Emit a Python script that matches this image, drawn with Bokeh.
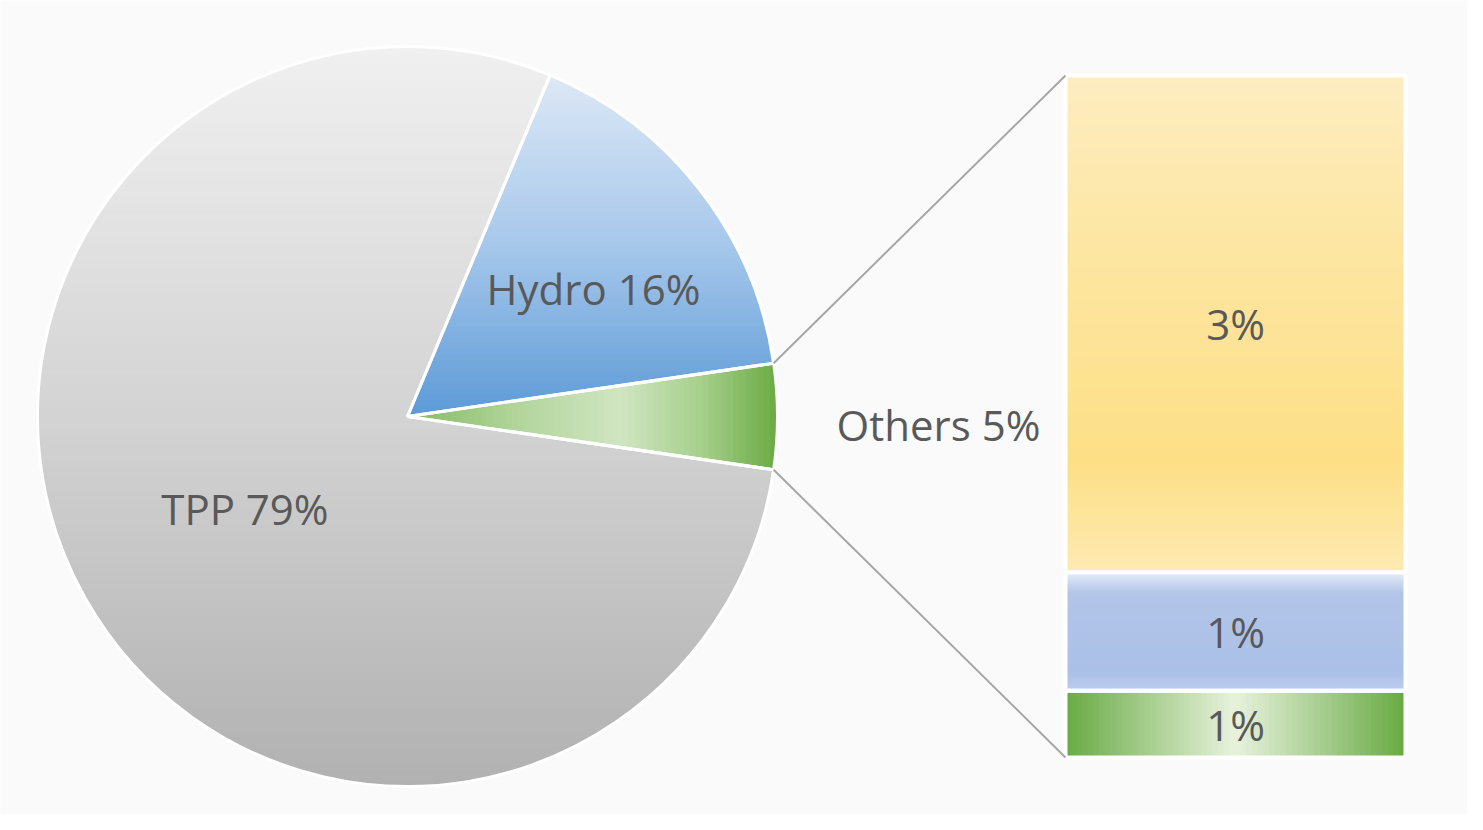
import numpy as np
from bokeh.plotting import figure
from bokeh.models import Range1d
from bokeh.core.properties import value
from bokeh.embed import file_html
from bokeh.resources import INLINE

# ---------------- data ----------------
pie_names = ["TPP", "Hydro", "Others"]
pie_values = [79.0, 16.4, 4.6]
pie_pct = ["79%", "16%", "5%"]

bar_values = [3.35, 0.8, 0.45]          # top to bottom
bar_pct = ["3%", "1%", "1%"]

# ---------------- layout / style ----------------
W, H = 1467, 814
CX, CY, R = 407.0, 398.0, 370.0
BAR_L, BAR_R, BAR_T, BAR_B = 1065.0, 1405.0, 739.0, 57.0
TXT = "#595959"
FONT = value("Open Sans")

p = figure(width=W, height=H, x_range=Range1d(0, W), y_range=Range1d(0, H),
           output_backend="svg", toolbar_location=None, min_border=0,
           x_axis_location=None, y_axis_location=None,
           background_fill_color="#fafafa", border_fill_color="#fafafa")
p.grid.visible = False
p.outline_line_color = None


def hex2rgb(h):
    h = h.lstrip("#")
    return np.array([int(h[i:i + 2], 16) for i in (0, 2, 4)], float)


def grad(stops, t):
    for (t0, c0), (t1, c1) in zip(stops[:-1], stops[1:]):
        if t <= t1:
            f = 0 if t1 == t0 else (t - t0) / (t1 - t0)
            c = hex2rgb(c0) * (1 - f) + hex2rgb(c1) * f
            return "#%02x%02x%02x" % tuple(int(round(v)) for v in c)
    return stops[-1][1]


def clip(xs, ys, k, lo, hi):
    pts = list(zip(xs, ys))

    def inter(a, b, bound):
        t = (bound - a[k]) / (b[k] - a[k])
        return (a[0] + t * (b[0] - a[0]), a[1] + t * (b[1] - a[1]))

    def half(pts, bound, greater):
        out = []
        n = len(pts)
        for i in range(n):
            cur, prev = pts[i], pts[i - 1]
            cin = cur[k] >= bound if greater else cur[k] <= bound
            pin = prev[k] >= bound if greater else prev[k] <= bound
            if cin:
                if not pin:
                    out.append(inter(prev, cur, bound))
                out.append(cur)
            elif pin:
                out.append(inter(prev, cur, bound))
        return out

    pts = half(pts, lo, True)
    if pts:
        pts = half(pts, hi, False)
    return [a for a, b in pts], [b for a, b in pts]


def wedge_poly(a0, a1, n=200):
    th = np.linspace(a0, a1, n)
    xs = [CX] + list(CX + R * np.cos(th))
    ys = [CY] + list(CY + R * np.sin(th))
    return xs, ys


def banded(xs, ys, k, stops, nb, reverse=False):
    arr = np.array(xs if k == 0 else ys)
    lo, hi = arr.min(), arr.max()
    bx, by, bc = [], [], []
    edges = np.linspace(lo, hi, nb + 1)
    for i in range(nb):
        cx_, cy_ = clip(xs, ys, k, edges[i] - 0.6, edges[i + 1] + 0.6)
        if len(cx_) < 3:
            continue
        t = (i + 0.5) / nb
        if reverse:
            t = 1 - t
        bx.append(cx_)
        by.append(cy_)
        bc.append(grad(stops, t))
    p.patches(bx, by, fill_color=bc, line_color=bc, line_width=1)


# ---------------- pie ----------------
total = sum(pie_values)
fr = [v / total for v in pie_values]
start = -fr[2] * np.pi  # Others centred on the right
a_oth = (start, start + 2 * np.pi * fr[2])
a_hyd = (a_oth[1], a_oth[1] + 2 * np.pi * fr[1])
a_tpp = (a_hyd[1], start + 2 * np.pi)

# TPP: full disc, vertical gradient light top -> darker bottom
th = np.linspace(0, 2 * np.pi, 361)
disc_x, disc_y = list(CX + R * np.cos(th)), list(CY + R * np.sin(th))
banded(disc_x, disc_y, 1, [(0, "#f0f0f0"), (0.5, "#d3d3d3"), (1, "#b1b1b1")], 90, reverse=True)

# Hydro: vertical gradient
hx, hy = wedge_poly(*a_hyd)
banded(hx, hy, 1, [(0, "#dce8f6"), (0.5, "#a6c7eb"), (1, "#5c9ad7")], 60, reverse=True)

# Others: horizontal gradient
ox, oy = wedge_poly(*a_oth)
banded(ox, oy, 0, [(0, "#84ba63"), (0.3, "#b2d59c"), (0.58, "#d0e5c1"),
                   (0.8, "#a5cf8b"), (1, "#6cab45")], 60)

# white separators
p.wedge(x=[CX] * 3, y=[CY] * 3, radius=R,
        start_angle=[a_tpp[0], a_hyd[0], a_oth[0]],
        end_angle=[a_tpp[1], a_hyd[1], a_oth[1]],
        fill_color=None, line_color="white", line_width=3)

# pie labels
mid = [(a_tpp[0] + a_tpp[1]) / 2, (a_hyd[0] + a_hyd[1]) / 2]
lab_r = [0.505 * R, 0.61 * R]
lab_shift = [0.0, np.radians(-3.3)]
lx = [CX + r * np.cos(m + s) for r, m, s in zip(lab_r, mid, lab_shift)]
ly = [CY + r * np.sin(m + s) for r, m, s in zip(lab_r, mid, lab_shift)]
p.text(x=lx, y=ly, text=[f"{pie_names[0]} {pie_pct[0]}", f"{pie_names[1]} {pie_pct[1]}"],
       text_font=FONT, text_font_size="42px", text_color=TXT,
       text_align="center", text_baseline="middle")

# ---------------- bar of others ----------------
scale = (BAR_T - BAR_B) / sum(bar_values)
tops, bots = [], []
y = BAR_T
for v in bar_values:
    tops.append(y)
    y -= v * scale
    bots.append(y)

bar_stops = [
    (1, [(0, "#fdedc0"), (0.35, "#fde6a2"), (0.78, "#fddf86"), (1, "#fdeab3")]),
    (1, [(0, "#e8eef8"), (0.18, "#b2c5e8"), (0.85, "#abc0e7"), (1, "#bccdee")]),
    (0, [(0, "#68aa43"), (0.5, "#e8f2dd"), (1, "#68aa43")]),
]
for (k, stops), t, b in zip(bar_stops, tops, bots):
    nb = 60
    if k == 1:
        edges = np.linspace(t, b, nb + 1)
        cols = [grad(stops, (i + 0.5) / nb) for i in range(nb)]
        p.quad(left=BAR_L, right=BAR_R, top=edges[:-1] + 0.5, bottom=edges[1:] - 0.5,
               fill_color=cols, line_color=None)
    else:
        edges = np.linspace(BAR_L, BAR_R, nb + 1)
        cols = [grad(stops, (i + 0.5) / nb) for i in range(nb)]
        p.quad(left=edges[:-1] - 0.5, right=edges[1:] + 0.5, top=t, bottom=b,
               fill_color=cols, line_color=None)

p.quad(left=BAR_L, right=BAR_R, top=tops, bottom=bots,
       fill_color=None, line_color="white", line_width=4)

p.text(x=[(BAR_L + BAR_R) / 2] * 3, y=[(t + b) / 2 for t, b in zip(tops, bots)],
       text=bar_pct, text_font=FONT, text_font_size="42px", text_color=TXT,
       text_align="center", text_baseline="middle")

# connector lines
p.segment(x0=[CX + R * np.cos(a_oth[1]), CX + R * np.cos(a_oth[0])],
          y0=[CY + R * np.sin(a_oth[1]), CY + R * np.sin(a_oth[0])],
          x1=[BAR_L, BAR_L], y1=[BAR_T, BAR_B],
          line_color="#a6a6a6", line_width=2)

# Others label
p.text(x=[938], y=[(BAR_T + BAR_B) / 2 - 8], text=[f"{pie_names[2]} {pie_pct[2]}"],
       text_font=FONT, text_font_size="42px", text_color=TXT,
       text_align="center", text_baseline="middle")

open("out.html", "w").write(file_html(p, INLINE))
